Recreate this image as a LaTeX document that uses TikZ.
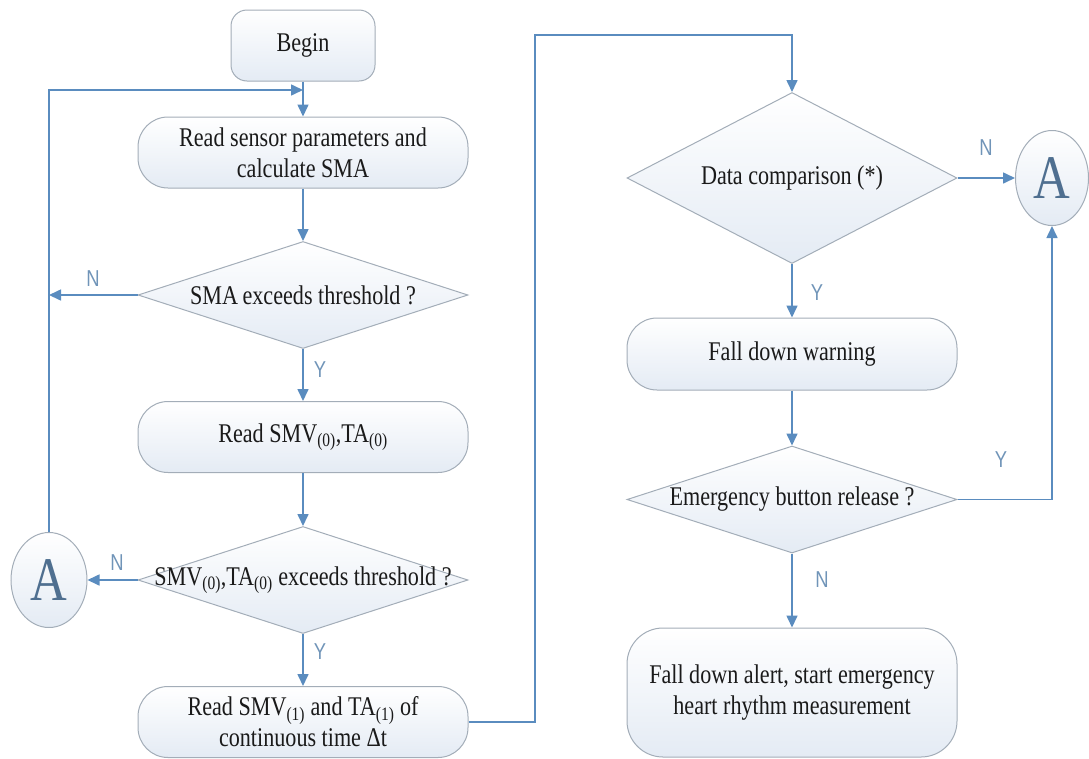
\documentclass[tikz,border=0pt]{standalone}
\usepackage{fontspec}
\setmainfont{Liberation Serif}[FakeStretch=0.82]
\newfontfamily\ynfont{Liberation Sans}[FakeStretch=0.8]
\usetikzlibrary{arrows.meta,shapes.geometric}
\definecolor{ink}{HTML}{1A1A1A}
\definecolor{edge}{HTML}{A3ADB8}
\definecolor{nodebg}{HTML}{E4EBF4}
\definecolor{wire}{HTML}{5A8CBF}
\definecolor{tag}{HTML}{7094B8}
\definecolor{letter}{HTML}{4F6F90}

\begin{document}
\begin{tikzpicture}[x=1pt,y=-1pt,text=ink,
  box/.style={draw=edge,top color=white,bottom color=nodebg,line width=1pt,
    rounded corners=30pt,align=center,minimum width=330pt,minimum height=71pt,
    inner sep=0pt,font=\fontsize{27}{31}\selectfont},
  test/.style={diamond,draw=edge,top color=white,bottom color=nodebg,line width=1pt,
    minimum width=330pt,minimum height=107pt,inner sep=0pt},
  label/.style={font=\fontsize{27}{31}\selectfont},
  link/.style={ellipse,draw=edge,top color=white,bottom color=nodebg,line width=1pt,
    minimum width=76pt,minimum height=95pt,inner sep=0pt,text=letter,
    font=\fontsize{62}{62}\selectfont},
  flow/.style={-{Triangle[length=12pt,width=11pt]},line width=1.6pt,draw=wire},
  note/.style={text=tag,font=\ynfont\fontsize{23}{23}\selectfont}]
\useasboundingbox (0,0) rectangle (1089,758);

% left column: read and check the sensor values
\node[box,rounded corners=16pt,minimum width=144pt] (begin) at (303,45.5) {Begin};
\node[box] (read) at (303,152.5) {Read sensor parameters and\\calculate SMA};
\node[test] (sma) at (303,295) {};
\node[label] at (sma) {SMA\,exceeds threshold ?};
\node[box] (smv0) at (303,437) {Read SMV\textsubscript{(0)},TA\textsubscript{(0)}};
\node[test] (chk0) at (303,580) {};
\node[label] at (chk0) {SMV\textsubscript{(0)},TA\textsubscript{(0)} exceeds threshold ?};
\node[box] (smv1) at (303,722) {Read SMV\textsubscript{(1)} and TA\textsubscript{(1)} of\\continuous time Δt};
\node[link] (backA) at (49,580) {A};
\coordinate (join) at (303,90);
\coordinate (turn) at (535,35);

% right column: compare and raise the alarm
\node[test,minimum height=171pt] (cmp) at (792,178) {};
\node[label] at (cmp) {Data comparison (*)};
\node[box,minimum height=72pt] (warn) at (792,354) {Fall down warning};
\node[test] (btn) at (792,499.5) {};
\node[label] at (btn) {Emergency button release ?};
\node[box,minimum height=129pt,rounded corners=36pt] (alert) at (792,692.5)
  {Fall down alert, start emergency\\heart rhythm measurement};
\node[link,minimum width=73pt] (goA) at (1052,178) {A};

\draw[flow] (begin.south)--(read.north);
\draw[flow] (backA.north)|-(join);
\draw[flow] (read.south)--(sma.north);
\draw[flow] (sma.west)--(sma.west -| backA.north);
\draw[flow] (sma.south)--(smv0.north);
\draw[flow] (smv0.south)--(chk0.north);
\draw[flow] (chk0.west)--(backA.east);
\draw[flow] (chk0.south)--(smv1.north);
\draw[flow] (smv1.east)-|(turn)-|(cmp.north);
\draw[flow] (cmp.east)--(goA.west);
\draw[flow] (cmp.south)--(warn.north);
\draw[flow] (warn.south)--(btn.north);
\draw[flow] (btn.east)-|(goA.south);
\draw[flow] (btn.south)--(alert.north);

\node[note] at (93,279) {N};
\node[note] at (320,370) {Y};
\node[note] at (117,563) {N};
\node[note] at (320,652) {Y};
\node[note] at (986,148) {N};
\node[note] at (817,293) {Y};
\node[note] at (1001,460) {Y};
\node[note] at (822,580) {N};
\end{tikzpicture}
\end{document}
